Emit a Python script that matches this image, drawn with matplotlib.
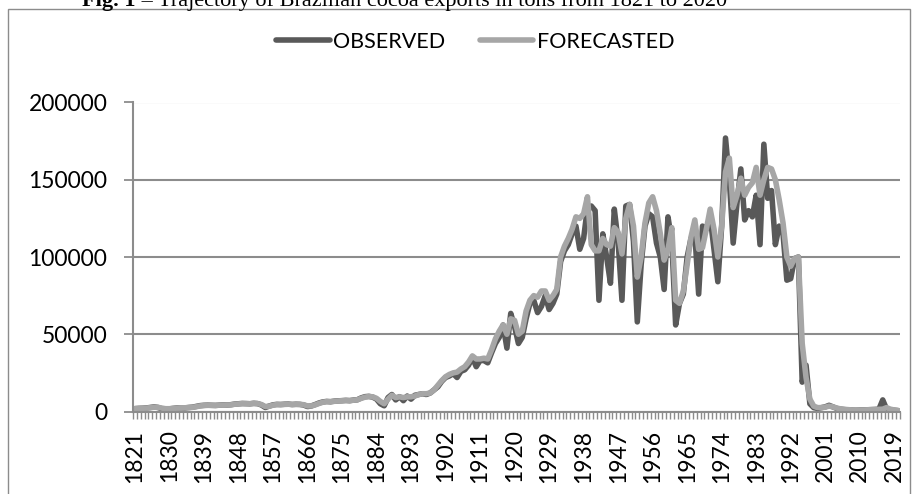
import matplotlib
matplotlib.use("Agg")
import matplotlib.pyplot as plt
from matplotlib.patches import Rectangle

plt.rcParams['font.family'] = ['Lato', 'DejaVu Sans']

# categories: one per year
years = list(range(1821, 2021))
label_years = years[::9]

observed = [
    1800, 2000, 2100, 2300, 2600, 3000, 2600, 1800, 1500, 1700,          # 1821-1830
    2000, 2300, 2400, 2300, 2600, 2800, 3300, 3800, 4000, 4100,          # 1831-1840
    4000, 3900, 4100, 4300, 4200, 4400, 4800, 5000, 5200, 5100,          # 1841-1850
    5000, 5300, 5100, 4200, 2600, 3500, 4300, 4600, 4500, 4700,          # 1851-1860
    4800, 4500, 4700, 4600, 4200, 3200, 3600, 4500, 5500, 6200,          # 1861-1870
    6500, 6300, 6700, 6900, 7000, 7200, 7000, 7400, 7600, 8800,          # 1871-1880
    9600, 9800, 9300, 8000, 5000, 3700, 9000, 11000, 7500, 9600,         # 1881-1890
    7000, 10000, 8000, 10500, 11000, 11500, 11000, 12000, 14000, 16000,  # 1891-1900
    19500, 22000, 23000, 24500, 22000, 26000, 27000, 30000, 35000, 29000,  # 1901-1910
    33000, 33000, 31500, 38000, 44000, 48000, 56000, 41000, 63500, 55000,  # 1911-1920
    44000, 48000, 60000, 70000, 72000, 64000, 68000, 75000, 66000, 70000,  # 1921-1930
    76000, 97000, 104000, 108000, 115000, 120000, 105000, 112000, 132000, 133000,  # 1931-1940
    130000, 72000, 115000, 100000, 83000, 131000, 110000, 72000, 133000, 134000,   # 1941-1950
    110000, 58000, 95000, 120000, 128000, 126000, 109000, 100000, 79000, 126000,   # 1951-1960
    110000, 56000, 70000, 76000, 100000, 112000, 115000, 76000, 120000, 118000,    # 1961-1970
    126000, 105000, 84000, 120000, 177000, 150000, 109000, 135000, 157000, 124000,  # 1971-1980
    130000, 126000, 140000, 108000, 173000, 138000, 143000, 108000, 120000, 115000,  # 1981-1990
    85000, 86000, 99000, 100000, 19000, 30000, 5000, 2500, 2000, 2500,   # 1991-2000
    3000, 4000, 3000, 2000, 1500, 1200, 1000, 900, 800, 900,             # 2001-2010
    1000, 1100, 1200, 1300, 1500, 7500, 1500, 1000, 800, 500,            # 2011-2020
]

forecasted = [
    1900, 2000, 2100, 2200, 2500, 2800, 2700, 2200, 1800, 1800,
    2000, 2200, 2400, 2400, 2500, 2700, 3100, 3600, 3900, 4000,
    4000, 4000, 4100, 4200, 4200, 4300, 4700, 4900, 5100, 5100,
    5000, 5200, 5100, 4500, 3200, 3400, 4100, 4500, 4500, 4600,
    4700, 4600, 4600, 4600, 4400, 3600, 3600, 4300, 5200, 6000,
    6400, 6400, 6600, 6800, 7000, 7100, 7100, 7300, 7600, 8500,
    9300, 9700, 9500, 8500, 6500, 5000, 8000, 10500, 9000, 9500,
    9000, 9500, 9500, 10000, 11000, 11500, 11500, 12000, 14000, 17000,
    20000, 22500, 24000, 25000, 25500, 27500, 29000, 32000, 36000, 34000,
    34000, 34500, 34000, 40000, 47000, 52000, 56000, 50000, 60000, 59000,
    50000, 52000, 65000, 72000, 75000, 74000, 78000, 78000, 72000, 75000,
    79000, 100000, 107000, 112000, 118000, 126000, 125000, 128000, 139000, 108000,
    104000, 104000, 112000, 108000, 107000, 119000, 116000, 102000, 125000, 134000,
    120000, 87000, 100000, 122000, 135000, 139000, 130000, 115000, 98000, 105000,
    119000, 72000, 70000, 78000, 95000, 113000, 124000, 105000, 106000, 118000,
    131000, 118000, 100000, 120000, 155000, 164000, 132000, 140000, 151000, 140000,
    145000, 148000, 158000, 140000, 150000, 158000, 157000, 150000, 137000, 122000,
    100000, 94000, 99000, 100000, 44000, 22000, 8000, 3500, 2500, 2500,
    2800, 3500, 3000, 2200, 1700, 1400, 1200, 1000, 900, 900,
    1000, 1100, 1200, 1300, 1400, 1500, 2500, 1500, 1000, 700,
]

y_ticks = [0, 50000, 100000, 150000, 200000]

W, H = 915, 494
fig = plt.figure(figsize=(W / 100, H / 100), dpi=100)
ax = fig.add_axes([133 / W, 1 - 411.5 / H, 767 / W, 309 / H])

xs = list(range(len(years)))
line_kw = dict(lw=4, solid_joinstyle='round', solid_capstyle='round')
l1, = ax.plot(xs, observed, color='#595959', label='OBSERVED', **line_kw)
l2, = ax.plot(xs, forecasted, color='#A6A6A6', label='FORECASTED', **line_kw)

grid_col = '#8c8c8c'
ax.set_xlim(-0.5, len(years) - 0.5)
ax.set_ylim(0, 200000)
ax.set_yticks(y_ticks)
ax.set_yticklabels([str(v) for v in y_ticks])
ax.yaxis.grid(True, color=grid_col, lw=1.5)
ax.set_axisbelow(True)
for s in ['top', 'right']:
    ax.spines[s].set_visible(False)
for s in ['left', 'bottom']:
    ax.spines[s].set_color(grid_col)
    ax.spines[s].set_linewidth(1.5)

ax.tick_params(axis='y', length=6.5, width=1.3, color=grid_col, pad=12, labelsize=16.5)

# labels every 9 years, tick marks between every category
ax.set_xticks([years.index(y) for y in label_years])
ax.set_xticklabels([str(y) for y in label_years], rotation=90)
ax.set_xticks([i - 0.5 for i in range(len(years) + 1)], minor=True)
ax.tick_params(axis='x', which='major', length=0, pad=13, labelsize=16.5)
ax.tick_params(axis='x', which='minor', length=4.8, width=1, color=grid_col)

fig.legend(handles=[l1, l2], loc='center', bbox_to_anchor=(475 / W, 1 - 42 / H),
           ncol=2, frameon=False, fontsize=15.5, handlelength=2.5,
           handletextpad=0.15, columnspacing=1.6)

# outer chart frame
fig.patches.append(Rectangle((8 / W, -0.05), (910 - 8) / W, 1.05 - 9 / H,
                             transform=fig.transFigure, fill=False,
                             edgecolor='#8c8c8c', lw=1))

# caption, cut at the top edge as in the source
cap_y = 1 - 6 / H
t1 = fig.text(82 / W, cap_y, 'Fig. 1', fontsize=16, fontweight='bold',
              family='Liberation Serif', va='baseline', ha='left')
fig.canvas.draw()
bb = t1.get_window_extent()
fig.text(bb.x1 / W, cap_y,
         ' \u2013 Trajectory of Brazilian cocoa exports in tons from 1821 to 2020',
         fontsize=16, family='Liberation Serif', va='baseline', ha='left')

fig.savefig('out.png', dpi=100)
